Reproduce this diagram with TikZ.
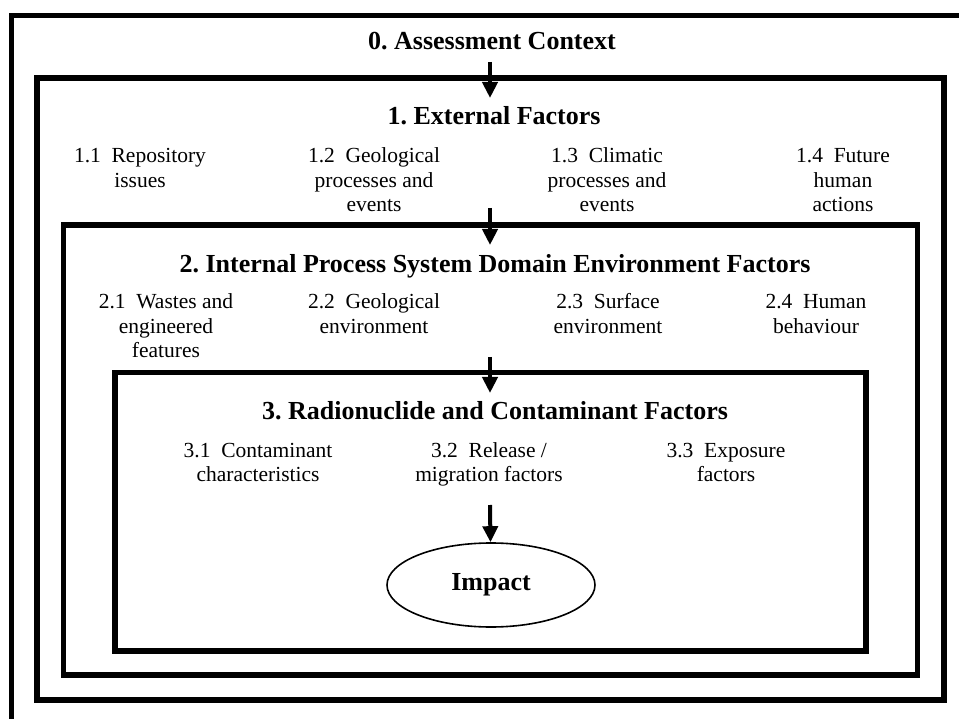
\documentclass[tikz,border=0pt]{standalone}
\usepackage{fontspec}
\setmainfont{Liberation Serif}
\usetikzlibrary{arrows.meta,shapes.geometric}
\frenchspacing

\begin{document}
\begin{tikzpicture}[x=1pt,y=-1pt,
  frame/.style={line width=5.5pt},
  ttl/.style={anchor=base, inner sep=0pt, font=\fontsize{26}{30}\selectfont\bfseries},
  itm/.style={anchor=base, inner sep=0pt, align=center, font=\fontsize{21.5}{24.5}\selectfont},
  arr/.style={line width=4pt, -{Triangle[length=16pt,width=15pt]}}]
\clip (0,0) rectangle (959,719);
\fill[white] (0,0) rectangle (959,719);
\draw[frame] (11.5,15.5) rectangle (975,735);
\draw[frame] (37,78) rectangle (944,700);
\draw[frame] (63.5,225) rectangle (917.5,675);
\draw[frame] (115,372.5) rectangle (866,651);
\node[ttl] (ttl0) at (492,50) {0. Assessment Context};
\node[ttl] (ttl1) at (494,125) {1. External Factors};
\node[itm] (f11) at (140,187.5) {1.1~~Repository\\issues};
\node[itm] (f12) at (374,212) {1.2~~Geological\\processes and\\events};
\node[itm] (f13) at (607,212) {1.3~~Climatic\\processes and\\events};
\node[itm] (f14) at (843,212) {1.4~~Future\\human\\actions};
\node[ttl] (ttl2) at (495,273) {2. Internal Process System Domain Environment Factors};
\node[itm] (f21) at (166,358) {2.1~~Wastes and\\engineered\\features};
\node[itm] (f22) at (374,333.5) {2.2~~Geological\\environment};
\node[itm] (f23) at (608,333.5) {2.3~~Surface\\environment};
\node[itm] (f24) at (816,333.5) {2.4~~Human\\behaviour};
\node[ttl] (ttl3) at (495,420) {3. Radionuclide and Contaminant Factors};
\node[itm] (f31) at (258,481.5) {3.1~~Contaminant\\characteristics};
\node[itm] (f32) at (489,481.5) {3.2~~Release /\\migration factors};
\node[itm] (f33) at (726,481.5) {3.3~~Exposure\\factors};
\node[ellipse, draw, line width=1.6pt, minimum width=208pt, minimum height=84pt, inner sep=0pt, font=\fontsize{26}{30}\selectfont\bfseries] (imp) at (491,585) {Impact};
\coordinate (a0) at (490,62);
\coordinate (a1) at (490,98);
\coordinate (a2) at (490,208);
\coordinate (a3) at (490,245);
\coordinate (a4) at (490,357);
\coordinate (a5) at (490,393);
\coordinate (a6) at (490,505);
\draw[arr] (a0) -- (a1);
\draw[arr] (a2) -- (a3);
\draw[arr] (a4) -- (a5);
\draw[arr] (a6) -- (imp);
\end{tikzpicture}
\end{document}
